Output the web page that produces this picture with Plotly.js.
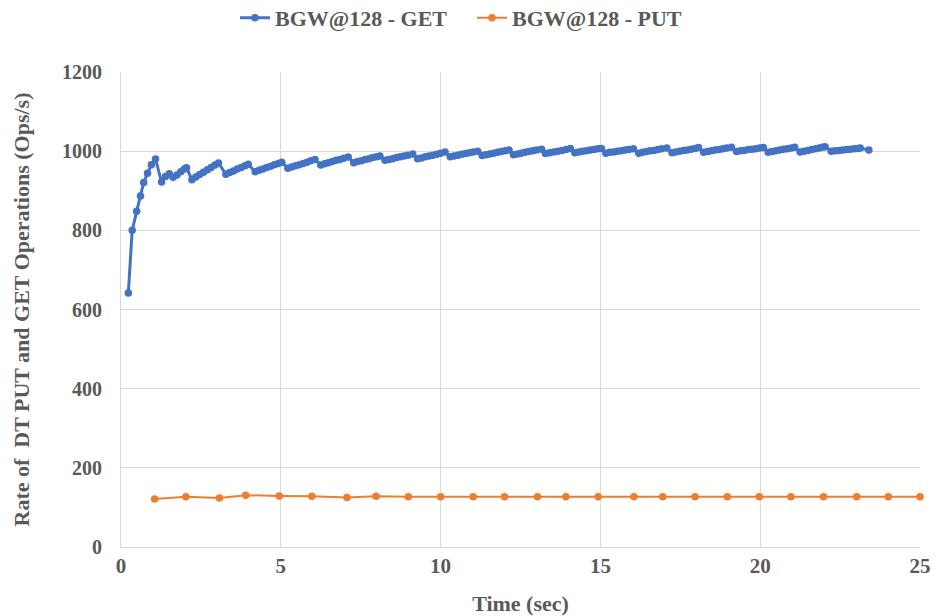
<!DOCTYPE html>
<html>
<head>
<meta charset="utf-8">
<script src="https://cdn.plot.ly/plotly-3.0.1.min.js"></script>
<style>
html,body{margin:0;padding:0;background:#fff;}
#chart{width:935px;height:616px;}
</style>
</head>
<body>
<div id="chart"></div>
<script>
// GET series: time (sec) and rate (ops/s)
var getTime = [
  0.23,0.35,0.49,0.61,0.71,0.83,0.95,1.08,
  1.27,1.39,1.51,1.63,1.75,1.87,1.98,2.05,
  2.22,2.34,2.46,2.58,2.70,2.82,2.94,3.05,
  3.28,3.40,3.52,3.64,3.76,3.88,3.98,
  4.20,4.32,4.44,4.56,4.68,4.80,4.92,5.03,
  5.22,5.34,5.46,5.58,5.70,5.82,5.94,6.07,
  6.25,6.37,6.49,6.61,6.73,6.85,6.97,7.11,
  7.28,7.40,7.52,7.64,7.76,7.88,8.00,8.10,
  8.26,8.38,8.50,8.62,8.74,8.86,8.98,9.13,
  9.28,9.40,9.52,9.64,9.76,9.88,10.00,10.14,
  10.30,10.42,10.54,10.66,10.78,10.90,11.02,11.16,
  11.30,11.42,11.54,11.66,11.78,11.90,12.02,12.14,
  12.28,12.40,12.52,12.64,12.76,12.88,13.00,13.16,
  13.28,13.41,13.54,13.67,13.80,13.93,14.06,
  14.20,14.32,14.44,14.56,14.68,14.80,14.92,15.03,
  15.17,15.29,15.41,15.53,15.65,15.77,15.89,16.03,
  16.20,16.32,16.44,16.56,16.68,16.80,16.92,17.08,
  17.24,17.36,17.48,17.60,17.72,17.84,17.96,18.07,
  18.23,18.35,18.47,18.59,18.71,18.83,18.95,19.10,
  19.26,19.38,19.50,19.62,19.74,19.86,19.98,20.10,
  20.25,20.37,20.49,20.61,20.73,20.85,20.97,21.08,
  21.25,21.37,21.49,21.61,21.73,21.85,21.95,22.03,
  22.22,22.34,22.46,22.58,22.70,22.82,22.94,23.06,23.13,23.40
];
var getRate = [
  642,800,848,887,921,944,966,980,
  922,936,943,934,940,948,955,958,
  928,935,941,947,953,959,965,970,
  942,946,950,955,959,963,967,
  948,952,955,959,962,966,969,972,
  957,960,963,966,969,972,976,979,
  965,968,971,974,977,979,982,985,
  971,974,976,979,981,984,986,988,
  977,979,981,984,986,988,990,993,
  981,983,986,988,990,992,995,998,
  986,988,990,992,994,996,998,1000,
  989,991,993,995,997,999,1001,1003,
  991,993,995,997,999,1001,1003,1005,
  994,996,998,1000,1002,1004,1007,
  996,998,1000,1001,1003,1004,1006,1007,
  995,997,998,1000,1001,1003,1004,1006,
  995,997,999,1001,1002,1004,1006,1008,
  996,998,1000,1002,1003,1005,1007,1009,
  997,999,1001,1003,1004,1006,1008,1010,
  999,1001,1002,1004,1005,1006,1008,1009,
  997,999,1001,1003,1005,1006,1008,1010,
  998,1000,1002,1004,1006,1008,1010,1011,
  1000,1001,1002,1003,1004,1005,1006,1007,1008,1003
];
// PUT series
var putTime = [1.05,2.03,3.08,3.90,4.95,5.97,7.07,7.98,8.99,10.00,11.02,12.00,13.03,13.92,14.93,16.05,16.95,17.96,18.97,19.97,20.96,21.98,23.02,24.01,25.00];
var putRate = [121,127,124,131,129,128,125,128,127,127,127,127,127,127,127,127,127,127,127,127,127,127,127,127,127];

var seriesNames = ['BGW@128 - GET','BGW@128 - PUT'];
var xTicks = [0,5,10,15,20,25];
var yTicks = [0,200,400,600,800,1000,1200];

var fontFam = '"Liberation Serif", "Times New Roman", serif';
var textCol = '#595959';
var gridCol = '#D9D9D9';

var traces = [
  {x:getTime, y:getRate, name:seriesNames[0], type:'scatter', mode:'lines+markers',
   line:{color:'#4472C4', width:3}, marker:{color:'#4472C4', size:7.5}, cliponaxis:false},
  {x:putTime, y:putRate, name:seriesNames[1], type:'scatter', mode:'lines+markers',
   line:{color:'#ED7D31', width:2}, marker:{color:'#ED7D31', size:7.5}, cliponaxis:false}
];

var layout = {
  width:935, height:616,
  margin:{l:121, r:15, t:72, b:69},
  paper_bgcolor:'#fff', plot_bgcolor:'#fff',
  font:{family:fontFam, color:textCol, size:20},
  showlegend:true,
  legend:{orientation:'h', xref:'container', yref:'container', x:0.2513, xanchor:'left', y:0.971, yanchor:'middle',
    font:{family:fontFam, size:22, color:textCol, weight:'bold'}, itemwidth:30,
    entrywidthmode:'pixels', entrywidth:192,
    traceorder:'normal'},
  xaxis:{range:[0,25], tickvals:xTicks, ticktext:xTicks.map(String),
    showgrid:true, gridcolor:gridCol, gridwidth:1, zeroline:false,
    showline:true, linecolor:gridCol, linewidth:1, ticks:'',
    tickfont:{family:fontFam, size:21, color:textCol, weight:'bold'},
    title:{text:'Time (sec)', font:{family:fontFam, size:22, color:textCol, weight:'bold'}, standoff:20}},
  yaxis:{range:[0,1200], tickvals:yTicks, ticktext:yTicks.map(String),
    showgrid:true, gridcolor:gridCol, gridwidth:1, zeroline:false,
    showline:true, linecolor:gridCol, linewidth:1, ticks:'', ticklabelstandoff:14,
    tickfont:{family:fontFam, size:20, color:textCol, weight:'bold'},
    title:{text:'Rate of  DT PUT and GET Operations (Ops/s)', font:{family:fontFam, size:22, color:textCol, weight:'bold'}, standoff:26}}
};

Plotly.newPlot('chart', traces, layout, {displayModeBar:false, staticPlot:true});
</script>
</body>
</html>
